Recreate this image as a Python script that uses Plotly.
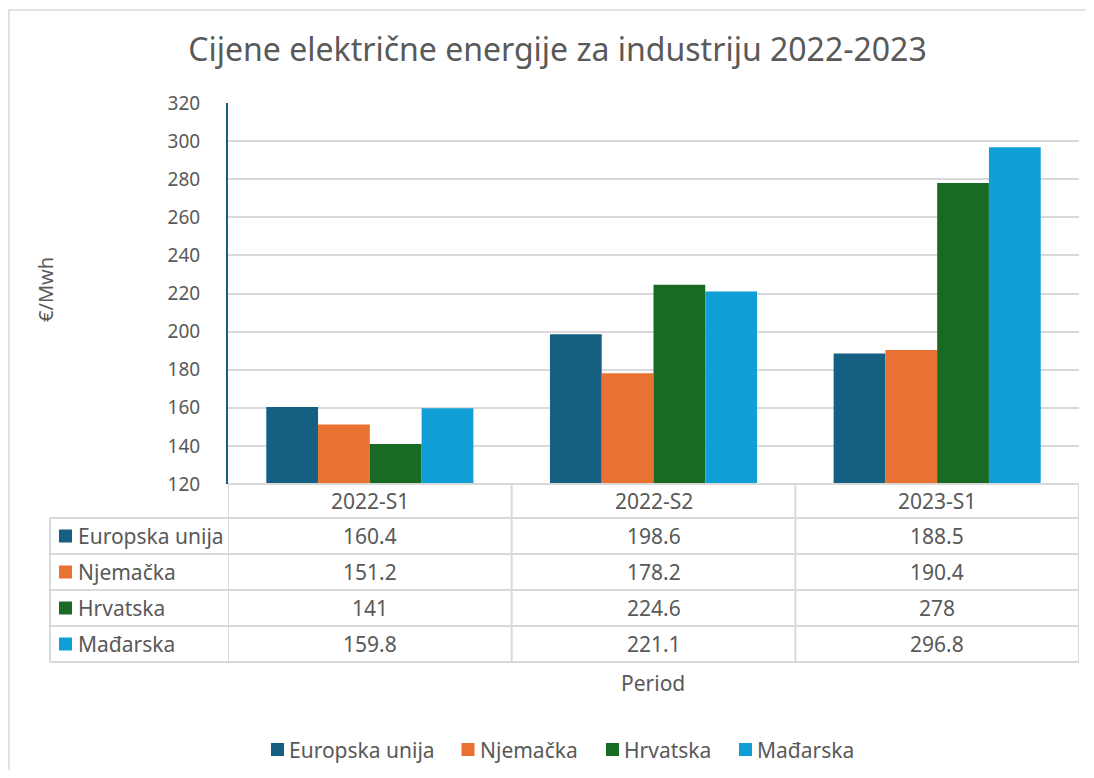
import plotly.graph_objects as go

categories = ["2022-S1", "2022-S2", "2023-S1"]
series_names = ["Europska unija", "Njemačka", "Hrvatska", "Mađarska"]
eu = [160.4, 198.6, 188.5]
de = [151.2, 178.2, 190.4]
hr = [141, 224.6, 278]
hu = [159.8, 221.1, 296.8]
series_values = [eu, de, hr, hu]
colors = ["#156082", "#E97132", "#196B24", "#0F9ED5"]

# page body has an 8px margin; all pixel positions below are page positions
OFF = 8
W, H = 1094 - OFF, 778 - 2 * OFF
L, R, T, B = 228, 1079, 103, 484
FONT = "Noto Sans"
GREY = "#595959"
LINE = "#d9d9d9"

def px_x(p):
    return (p - L) / (R - L)

def px_y(p):
    return (B - p) / (B - T)

fig = go.Figure()
for name, vals, c in zip(series_names, series_values, colors):
    fig.add_trace(go.Bar(x=list(range(len(categories))), y=vals, name=name,
                         marker=dict(color=c, line=dict(width=0)), showlegend=False))

shapes = []
annotations = []

# outer border
shapes.append(dict(type="rect", xref="paper", yref="paper",
                   x0=px_x(9), x1=px_x(1110), y0=px_y(10), y1=px_y(820),
                   line=dict(color="#d9d9d9", width=1.5), layer="below"))

row_h = 36
header_top, header_bot = 484, 518
rows_top = [518 + i * row_h for i in range(len(series_names))]
table_bottom = rows_top[-1] + row_h
TFS = 21

for i in range(len(categories) + 1):
    shapes.append(dict(type="line", xref="x", yref="paper", x0=i - 0.5, x1=i - 0.5,
                       y0=px_y(header_top), y1=px_y(table_bottom),
                       line=dict(color=LINE, width=2)))
shapes.append(dict(type="line", xref="paper", yref="paper", x0=px_x(50), x1=px_x(50),
                   y0=px_y(header_bot), y1=px_y(table_bottom),
                   line=dict(color=LINE, width=2)))
for yy in [header_bot] + [t + row_h for t in rows_top]:
    shapes.append(dict(type="line", xref="paper", yref="paper", x0=px_x(50), x1=px_x(R),
                       y0=px_y(yy), y1=px_y(yy), line=dict(color=LINE, width=2)))
shapes.append(dict(type="line", xref="paper", yref="paper", x0=0, x1=1,
                   y0=0, y1=0, line=dict(color=LINE, width=2)))

for i, cat in enumerate(categories):
    annotations.append(dict(x=i, xref="x", y=px_y((header_top + header_bot) / 2), yref="paper",
                            text=cat, showarrow=False, xanchor="center", yanchor="middle",
                            font=dict(family=FONT, size=TFS, color=GREY)))
for r, (name, vals, c) in enumerate(zip(series_names, series_values, colors)):
    yc = rows_top[r] + row_h / 2
    shapes.append(dict(type="rect", xref="paper", yref="paper",
                       x0=px_x(59), x1=px_x(72), y0=px_y(yc - 6.5), y1=px_y(yc + 6.5),
                       fillcolor=c, line=dict(width=0)))
    annotations.append(dict(x=px_x(76), xref="paper", y=px_y(yc), yref="paper",
                            text=name, showarrow=False, xanchor="left", yanchor="middle",
                            font=dict(family=FONT, size=TFS, color=GREY)))
    for i, v in enumerate(vals):
        annotations.append(dict(x=i, xref="x", y=px_y(yc), yref="paper",
                                text=f"{v:g}", showarrow=False, xanchor="center", yanchor="middle",
                                font=dict(family=FONT, size=TFS, color=GREY)))

# manual legend
leg_keys = [271, 461.5, 606, 739]
leg_y = 749.5
for name, c, kx in zip(series_names, colors, leg_keys):
    shapes.append(dict(type="rect", xref="paper", yref="paper",
                       x0=px_x(kx), x1=px_x(kx + 13), y0=px_y(leg_y - 6.5), y1=px_y(leg_y + 6.5),
                       fillcolor=c, line=dict(width=0)))
    annotations.append(dict(x=px_x(kx + 16), xref="paper", y=px_y(leg_y), yref="paper",
                            text=name, showarrow=False, xanchor="left", yanchor="middle",
                            font=dict(family=FONT, size=TFS, color=GREY)))

annotations.append(dict(x=px_x(653), xref="paper", y=px_y(683), yref="paper", text="Period",
                        showarrow=False, xanchor="center", yanchor="middle",
                        font=dict(family=FONT, size=21, color=GREY)))
annotations.append(dict(x=px_x(45), xref="paper", y=px_y(290), yref="paper", text="€/Mwh",
                        showarrow=False, xanchor="center", yanchor="middle", textangle=-90,
                        font=dict(family=FONT, size=20, color=GREY)))

fig.update_layout(
    width=W, height=H,
    margin=dict(l=L - OFF, r=W - (R - OFF), t=T - OFF, b=H - (B - OFF), autoexpand=False),
    paper_bgcolor="white", plot_bgcolor="white",
    title=dict(text="Cijene električne energije za industriju 2022-2023",
               x=px_x(557.5), xref="paper", xanchor="center",
               y=1 - (50 - OFF) / H, yanchor="middle",
               font=dict(family=FONT, size=32, color=GREY)),
    barmode="group", bargap=0.27, bargroupgap=0,
    showlegend=False,
    shapes=shapes, annotations=annotations,
)
fig.update_xaxes(range=[-0.5, len(categories) - 0.5], showticklabels=False, showgrid=False,
                 zeroline=False, showline=False, fixedrange=True)
fig.update_yaxes(range=[120, 320], dtick=20, tick0=120, showgrid=True, gridcolor=LINE, gridwidth=2,
                 zeroline=False, showline=True, linecolor="#156082", linewidth=2,
                 ticks="", ticklabelstandoff=22,
                 tickfont=dict(family=FONT, size=19, color=GREY), fixedrange=True)

fig.write_html("out.html")
